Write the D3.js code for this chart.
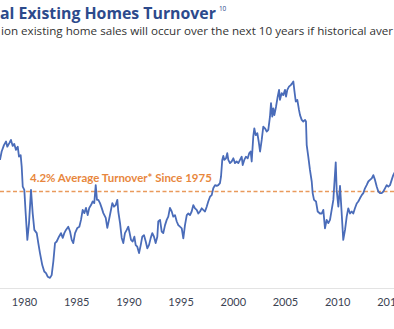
<!DOCTYPE html>
<html>
<head>
<meta charset="utf-8">
<script src="https://cdn.jsdelivr.net/npm/d3@7"></script>
<style>
  html, body { margin: 0; padding: 0; background: #fff; overflow: hidden; }
  svg { display: block; }
</style>
</head>
<body>
<svg id="chart" width="394" height="329"></svg>
<script>
// ---- data ----
const titleText = "al Existing Homes Turnover";
const titleNote = "10";
const subtitleText = "ion existing home sales will occur over the next 10 years if historical aver";
const avgLabel = "4.2% Average Turnover* Since 1975";
const avgValue = 4.2;
const tickYears = [1980, 1985, 1990, 1995, 2000, 2005, 2010, 2015];

const years = [
  1977.70,1977.86,1978.08,1978.28,1978.40,1978.59,1978.75,1978.92,1979.07,1979.23,
  1979.40,1979.52,1979.68,1979.78,1979.88,1980.03,1980.16,1980.32,1980.48,1980.67,
  1980.83,1980.99,1981.22,1981.37,1981.53,1981.75,1981.94,1982.11,1982.27,1982.49,
  1982.65,1982.81,1982.97,1983.13,1983.35,1983.54,1983.71,1983.86,1984.02,1984.24,
  1984.41,1984.57,1984.72,1984.89,1985.11,1985.30,1985.46,1985.62,1985.78,1985.94,
  1986.10,1986.25,1986.42,1986.58,1986.73,1986.87,1986.99,1987.12,1987.28,1987.44,
  1987.60,1987.83,1987.98,1988.14,1988.30,1988.46,1988.62,1988.78,1988.94,1989.03,
  1989.20,1989.36,1989.51,1989.67,1989.84,1989.99,1990.09,1990.25,1990.41,1990.57,
  1990.70,1990.85,1991.02,1991.18,1991.33,1991.49,1991.66,1991.81,1991.97,1992.14,
  1992.29,1992.45,1992.61,1992.77,1992.86,1993.03,1993.19,1993.34,1993.51,1993.67,
  1993.82,1993.98,1994.15,1994.30,1994.46,1994.63,1994.78,1994.94,1995.11,1995.26,
  1995.42,1995.59,1995.74,1995.90,1996.06,1996.22,1996.38,1996.54,1996.70,1996.86,
  1997.02,1997.17,1997.34,1997.50,1997.65,1997.82,1997.98,1998.13,1998.30,1998.46,
  1998.61,1998.77,1998.87,1998.99,1999.09,1999.19,1999.35,1999.47,1999.57,1999.73,
  1999.89,2000.05,2000.21,2000.37,2000.53,2000.69,2000.85,2000.95,2001.10,2001.26,
  2001.43,2001.58,2001.71,2001.81,2001.96,2002.06,2002.19,2002.35,2002.48,2002.61,
  2002.77,2002.92,2003.08,2003.25,2003.40,2003.56,2003.66,2003.78,2003.88,2003.98,
  2004.14,2004.30,2004.43,2004.52,2004.68,2004.84,2005.00,2005.10,2005.22,2005.38,
  2005.55,2005.70,2005.80,2005.89,2006.03,2006.18,2006.34,2006.44,2006.60,2006.75,
  2006.92,2007.01,2007.08,2007.23,2007.39,2007.56,2007.65,2007.78,2007.97,2008.13,
  2008.35,2008.52,2008.67,2008.83,2008.99,2009.15,2009.31,2009.47,2009.63,2009.86,
  2009.95,2010.11,2010.27,2010.43,2010.58,2010.75,2010.91,2011.06,2011.23,2011.39,
  2011.54,2011.70,2011.87,2012.02,2012.18,2012.35,2012.50,2012.66,2012.82,2012.98,
  2013.14,2013.31,2013.46,2013.62,2013.79,2013.94,2014.10,2014.26,2014.42,2014.58,
  2014.74,2014.90,2015.06,2015.22,2015.37,2015.53
];
const turnover = [
  4.99,5.20,5.36,5.45,5.32,5.41,5.49,5.34,5.39,5.24,
  5.32,5.07,5.11,4.82,4.32,4.24,3.66,2.99,3.41,4.24,
  3.66,3.24,3.16,2.91,2.66,2.36,2.20,2.16,2.07,2.04,
  2.11,2.45,2.91,2.95,3.07,3.16,3.04,3.16,3.24,3.32,
  3.20,2.99,2.91,3.16,3.29,3.32,3.49,3.74,3.66,3.79,
  3.61,3.79,3.86,3.95,3.91,4.36,3.99,3.99,3.91,3.79,
  3.66,3.54,3.29,3.49,3.70,3.91,3.82,3.86,3.99,3.70,
  3.41,3.04,2.91,3.16,3.24,3.32,3.20,2.99,2.95,3.07,
  2.86,2.82,2.66,2.86,3.07,3.11,2.95,2.78,2.86,3.04,
  3.16,3.07,2.91,3.07,3.45,3.49,3.20,3.16,3.36,3.49,
  3.57,3.79,3.70,3.57,3.61,3.45,3.36,3.32,3.28,3.03,
  3.36,3.61,3.65,3.61,3.70,3.86,3.78,3.74,3.65,3.70,
  3.78,3.74,3.70,3.82,3.95,4.07,4.11,4.28,4.36,4.34,
  4.36,4.41,4.57,4.99,5.09,4.99,5.03,5.16,4.99,4.91,
  4.95,5.03,4.91,4.95,4.91,4.99,5.07,4.86,4.99,5.07,
  5.03,5.16,5.20,4.95,5.57,5.78,5.61,5.66,5.45,5.20,
  5.49,5.82,5.78,5.70,5.74,6.07,6.41,6.07,6.28,6.11,
  6.32,6.57,6.74,6.49,6.66,6.61,6.74,6.57,6.74,6.82,
  6.86,6.91,6.95,6.74,6.45,6.49,6.24,6.11,5.99,5.95,
  5.99,5.95,5.36,5.07,4.74,4.45,4.16,3.99,3.95,3.70,
  3.65,3.65,3.74,3.28,3.49,3.41,3.49,3.74,3.99,4.93,
  4.24,3.82,4.34,3.65,2.99,3.24,3.57,3.78,3.65,3.70,
  3.65,3.78,3.90,3.95,4.03,4.11,4.16,4.28,4.36,4.45,
  4.49,4.53,4.61,4.49,4.32,4.20,4.16,4.16,4.20,4.28,
  4.36,4.32,4.36,4.49,4.61,4.69
];

// ---- layout ----
const W = 394, H = 329;
const svg = d3.select("#chart");

const x = d3.scaleLinear().domain([1980, 2015]).range([24, 389.4]);
const y = d3.scaleLinear().domain([avgValue, 6.95]).range([191.5, 81.5]);

const data = years.map((yr, i) => ({ yr, v: turnover[i] }));

function fit(sel, target) {
  const w = sel.node().getComputedTextLength();
  const fs = parseFloat(sel.attr("font-size"));
  sel.attr("font-size", (fs * target / w).toFixed(2));
}

// Title (condensed-ish width fit)
const title = svg.append("text")
  .attr("x", 0).attr("y", 19)
  .attr("font-family", "'Open Sans', sans-serif")
  .attr("font-weight", 700)
  .attr("font-size", 17)
  .attr("fill", "#2c4a8c")
  .text(titleText);
fit(title, 216);
const tw = title.node().getComputedTextLength();
svg.append("text")
  .attr("x", tw + 3).attr("y", 11)
  .attr("font-family", "'Open Sans', sans-serif")
  .attr("font-size", 6.5)
  .attr("fill", "#2c4a8c")
  .text(titleNote);

// Subtitle
const subProbe = svg.append("text")
  .attr("font-family", "'Open Sans', sans-serif")
  .attr("font-size", 12)
  .text("ion existing home sales will");
const sw = subProbe.node().getComputedTextLength();
subProbe.remove();
svg.append("text")
  .attr("x", 1).attr("y", 35)
  .attr("font-family", "'Open Sans', sans-serif")
  .attr("font-size", (12 * 147 / sw).toFixed(2))
  .attr("fill", "#333333")
  .text(subtitleText);

// Axis baseline
svg.append("line")
  .attr("x1", 0).attr("x2", W)
  .attr("y1", 288.5).attr("y2", 288.5)
  .attr("stroke", "#e3e3e3").attr("stroke-width", 1);

// Axis labels
const axis = d3.axisBottom(x)
  .tickValues(tickYears)
  .tickFormat(d3.format("d"))
  .tickSize(0)
  .tickPadding(10);
const gx = svg.append("g").attr("transform", "translate(0,288)").call(axis);
gx.select(".domain").remove();
gx.selectAll("text")
  .attr("font-family", "Lato, 'Open Sans', sans-serif")
  .attr("font-size", 11)
  .attr("fill", "#3b4252");

// Average dashed line
svg.append("line")
  .attr("x1", 0).attr("x2", W)
  .attr("y1", y(avgValue)).attr("y2", y(avgValue))
  .attr("stroke", "#e99a5c")
  .attr("stroke-width", 1.3)
  .attr("stroke-dasharray", "4,2.5");

// Average label
const lab = svg.append("text")
  .attr("x", 30).attr("y", 182)
  .attr("font-family", "Lato, 'Open Sans', sans-serif")
  .attr("font-weight", 700)
  .attr("font-size", 10)
  .attr("fill", "#e8873d")
  .text(avgLabel);
fit(lab, 182);

// Line
const line = d3.line().x(d => x(d.yr)).y(d => y(d.v));
svg.append("path")
  .datum(data)
  .attr("d", line)
  .attr("fill", "none")
  .attr("stroke", "#4a6cb9")
  .attr("stroke-width", 1.8)
  .attr("stroke-linejoin", "round");
</script>
</body>
</html>
